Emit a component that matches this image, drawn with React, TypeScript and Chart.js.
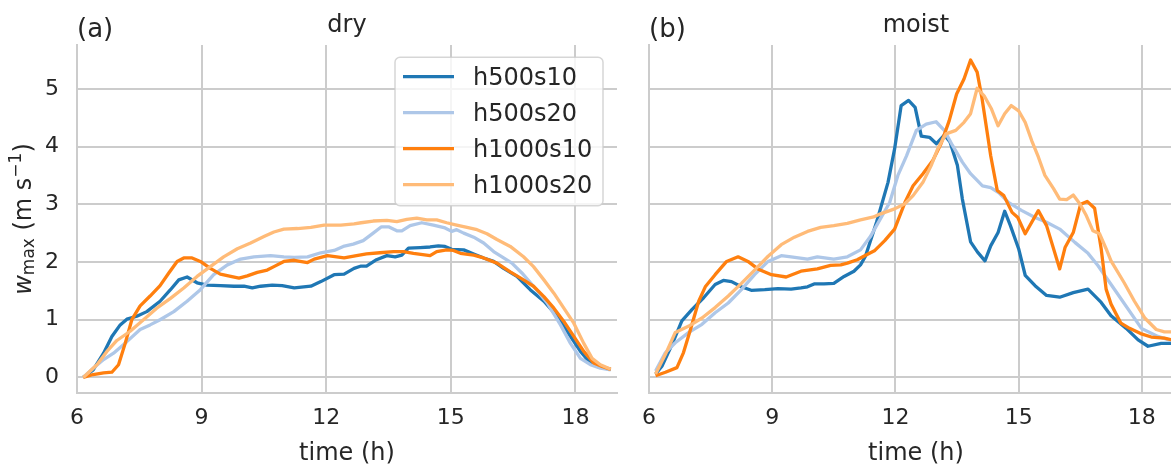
import React, { useEffect, useRef } from 'react';
import { Chart, registerables } from 'chart.js';

Chart.register(...registerables);

const SERIES_NAMES = ['h500s10', 'h500s20', 'h1000s10', 'h1000s20'];
const SERIES_COLORS = ['#1f77b4', '#aec7e8', '#ff7f0e', '#ffbb78'];
const X_TICKS = [6, 9, 12, 15, 18];
const Y_TICKS = [0, 1, 2, 3, 4, 5];
const PANEL_TITLES = ['dry', 'moist'];
const PANEL_LETTERS = ['(a)', '(b)'];
const X_LABEL = 'time (h)';

// ---- dry ----
const dryH500s10T = [6.15, 6.39, 6.64, 6.84, 7.04, 7.2, 7.44, 7.68, 8.0, 8.25, 8.45, 8.65, 8.89, 9.13, 9.45, 9.78, 10.02, 10.22, 10.42, 10.7, 10.94, 11.23, 11.63, 11.87, 12.19, 12.43, 12.67, 12.84, 12.97, 13.21, 13.46, 13.66, 13.82, 13.98, 14.26, 14.5, 14.7, 14.86, 15.02, 15.31, 15.55, 15.79, 16.03, 16.27, 16.59, 16.91, 17.24, 17.56, 17.88, 18.12, 18.32, 18.52, 18.85];
const dryH500s10V = [0, 0.13, 0.42, 0.71, 0.91, 1.01, 1.06, 1.14, 1.32, 1.52, 1.69, 1.74, 1.64, 1.6, 1.59, 1.58, 1.58, 1.55, 1.58, 1.6, 1.59, 1.55, 1.58, 1.66, 1.78, 1.79, 1.89, 1.93, 1.93, 2.04, 2.11, 2.09, 2.12, 2.24, 2.25, 2.26, 2.28, 2.27, 2.22, 2.21, 2.14, 2.07, 2.01, 1.89, 1.75, 1.52, 1.32, 1.06, 0.71, 0.45, 0.28, 0.19, 0.14];

const dryH500s20T = [6.15, 6.39, 6.64, 6.88, 7.2, 7.52, 7.76, 8.0, 8.33, 8.65, 8.97, 9.29, 9.62, 9.94, 10.26, 10.66, 10.98, 11.23, 11.55, 11.87, 12.19, 12.41, 12.65, 12.89, 13.13, 13.33, 13.5, 13.7, 13.82, 14.02, 14.3, 14.58, 14.86, 15.02, 15.14, 15.31, 15.55, 15.79, 16.03, 16.27, 16.47, 16.71, 16.99, 17.32, 17.64, 17.88, 18.12, 18.36, 18.6, 18.85];
const dryH500s20V = [0, 0.16, 0.31, 0.42, 0.62, 0.83, 0.91, 1.0, 1.14, 1.32, 1.52, 1.78, 1.95, 2.05, 2.09, 2.11, 2.09, 2.08, 2.09, 2.16, 2.2, 2.27, 2.31, 2.37, 2.5, 2.61, 2.61, 2.54, 2.54, 2.63, 2.68, 2.64, 2.59, 2.53, 2.56, 2.5, 2.43, 2.33, 2.18, 2.07, 1.98, 1.81, 1.58, 1.29, 0.91, 0.59, 0.33, 0.22, 0.16, 0.13];

const dryH1000s10T = [6.15, 6.39, 6.64, 6.84, 7.0, 7.16, 7.32, 7.52, 7.76, 8.0, 8.21, 8.41, 8.57, 8.77, 8.97, 9.21, 9.45, 9.7, 9.9, 10.1, 10.34, 10.58, 10.74, 10.98, 11.23, 11.55, 11.71, 12.03, 12.43, 12.73, 12.97, 13.29, 13.62, 13.86, 14.1, 14.5, 14.66, 14.9, 15.06, 15.23, 15.55, 15.79, 16.11, 16.43, 16.75, 16.99, 17.24, 17.48, 17.72, 17.96, 18.2, 18.44, 18.64, 18.85];
const dryH1000s10V = [0, 0.05, 0.08, 0.09, 0.22, 0.59, 1.0, 1.24, 1.41, 1.59, 1.81, 2.01, 2.07, 2.07, 2.01, 1.89, 1.79, 1.75, 1.72, 1.76, 1.82, 1.86, 1.92, 2.01, 2.03, 1.99, 2.05, 2.11, 2.07, 2.11, 2.14, 2.16, 2.18, 2.18, 2.15, 2.11, 2.18, 2.21, 2.2, 2.15, 2.12, 2.07, 1.98, 1.83, 1.69, 1.58, 1.4, 1.2, 0.97, 0.71, 0.45, 0.25, 0.19, 0.14];

const dryH1000s20T = [6.15, 6.48, 6.72, 6.96, 7.28, 7.6, 7.92, 8.25, 8.57, 8.89, 9.21, 9.53, 9.86, 10.18, 10.5, 10.74, 10.98, 11.31, 11.63, 11.95, 12.35, 12.67, 12.84, 13.13, 13.46, 13.7, 13.94, 14.18, 14.42, 14.66, 14.9, 15.14, 15.39, 15.63, 15.87, 16.11, 16.43, 16.75, 16.99, 17.24, 17.48, 17.72, 17.96, 18.2, 18.4, 18.6, 18.85];
const dryH1000s20V = [0, 0.22, 0.45, 0.64, 0.8, 1.0, 1.2, 1.37, 1.55, 1.75, 1.92, 2.09, 2.23, 2.33, 2.44, 2.52, 2.57, 2.58, 2.6, 2.64, 2.64, 2.66, 2.68, 2.71, 2.72, 2.7, 2.74, 2.76, 2.73, 2.73, 2.68, 2.64, 2.6, 2.56, 2.49, 2.39, 2.27, 2.09, 1.92, 1.69, 1.46, 1.2, 0.94, 0.59, 0.33, 0.22, 0.14];

// ---- moist ----
const moistH500s10T = [6.16, 6.32, 6.56, 6.8, 7.05, 7.33, 7.61, 7.81, 8.01, 8.25, 8.49, 8.82, 9.14, 9.46, 9.7, 9.86, 10.02, 10.26, 10.5, 10.75, 10.99, 11.15, 11.27, 11.54, 11.82, 11.98, 12.14, 12.32, 12.48, 12.63, 12.83, 13.0, 13.19, 13.33, 13.51, 13.63, 13.83, 14.0, 14.18, 14.32, 14.5, 14.66, 14.8, 15.0, 15.16, 15.4, 15.68, 16.0, 16.33, 16.69, 17.01, 17.25, 17.62, 17.91, 18.15, 18.47, 18.8];
const moistH500s10V = [0.06, 0.2, 0.57, 0.98, 1.18, 1.38, 1.61, 1.68, 1.66, 1.57, 1.51, 1.52, 1.54, 1.53, 1.55, 1.57, 1.62, 1.62, 1.63, 1.75, 1.84, 1.95, 2.1, 2.69, 3.38, 3.96, 4.71, 4.8, 4.68, 4.18, 4.16, 4.05, 4.2, 4.08, 3.67, 3.09, 2.35, 2.17, 2.02, 2.28, 2.51, 2.88, 2.63, 2.23, 1.77, 1.59, 1.42, 1.39, 1.47, 1.53, 1.3, 1.07, 0.85, 0.65, 0.54, 0.59, 0.59];

const moistH500s20T = [6.16, 6.4, 6.64, 6.97, 7.29, 7.61, 7.93, 8.25, 8.57, 8.9, 9.22, 9.46, 9.86, 10.1, 10.5, 10.83, 11.15, 11.39, 11.54, 11.86, 12.06, 12.27, 12.51, 12.75, 12.99, 13.19, 13.39, 13.63, 13.83, 14.12, 14.32, 14.52, 14.76, 15.08, 15.4, 15.68, 16.0, 16.37, 16.69, 16.93, 17.34, 17.99, 18.39, 18.8];
const moistH500s20V = [0.11, 0.43, 0.6, 0.78, 0.92, 1.12, 1.29, 1.52, 1.78, 2.01, 2.11, 2.09, 2.05, 2.09, 2.05, 2.09, 2.21, 2.44, 2.63, 3.03, 3.5, 3.84, 4.28, 4.39, 4.43, 4.28, 4.02, 3.73, 3.53, 3.32, 3.29, 3.2, 3.03, 2.89, 2.77, 2.69, 2.57, 2.34, 2.15, 1.94, 1.52, 0.85, 0.71, 0.62];

const moistH1000s10T = [6.16, 6.4, 6.68, 6.84, 7.01, 7.21, 7.37, 7.61, 7.89, 8.17, 8.41, 8.65, 8.98, 9.34, 9.7, 10.1, 10.42, 10.67, 10.83, 11.07, 11.31, 11.5, 11.74, 11.98, 12.23, 12.43, 12.67, 12.91, 13.11, 13.31, 13.49, 13.67, 13.83, 13.99, 14.11, 14.32, 14.48, 14.64, 14.84, 14.98, 15.16, 15.48, 15.68, 16.0, 16.13, 16.33, 16.51, 16.67, 16.85, 17.01, 17.13, 17.25, 17.49, 17.7, 17.97, 18.23, 18.55, 18.8];
const moistH1000s10V = [0.03, 0.09, 0.17, 0.43, 0.83, 1.32, 1.57, 1.78, 2.01, 2.09, 2.01, 1.88, 1.78, 1.74, 1.84, 1.88, 1.94, 1.95, 1.98, 2.04, 2.13, 2.2, 2.37, 2.57, 3.03, 3.32, 3.53, 3.76, 4.05, 4.45, 4.91, 5.17, 5.5, 5.29, 4.83, 3.84, 3.24, 3.15, 2.86, 2.77, 2.49, 2.89, 2.63, 1.88, 2.25, 2.51, 3.0, 3.05, 2.93, 2.23, 1.53, 1.27, 0.94, 0.85, 0.76, 0.7, 0.68, 0.64];

const moistH1000s20T = [6.16, 6.4, 6.64, 6.97, 7.29, 7.61, 7.93, 8.25, 8.57, 8.9, 9.22, 9.54, 9.86, 10.18, 10.5, 10.83, 11.15, 11.47, 11.62, 11.98, 12.23, 12.43, 12.67, 12.87, 13.03, 13.23, 13.47, 13.67, 13.83, 13.99, 14.16, 14.34, 14.5, 14.66, 14.82, 15.0, 15.16, 15.32, 15.48, 15.64, 15.85, 16.0, 16.17, 16.33, 16.49, 16.65, 16.81, 16.97, 17.13, 17.25, 17.57, 17.82, 18.07, 18.35, 18.55, 18.8];
const moistH1000s20V = [0.06, 0.4, 0.78, 0.89, 1.03, 1.21, 1.41, 1.63, 1.86, 2.1, 2.3, 2.43, 2.53, 2.6, 2.63, 2.67, 2.73, 2.78, 2.83, 2.92, 3.01, 3.15, 3.38, 3.67, 3.96, 4.22, 4.28, 4.42, 4.57, 5.01, 4.88, 4.65, 4.36, 4.57, 4.71, 4.62, 4.42, 4.1, 3.82, 3.5, 3.27, 3.09, 3.08, 3.16, 3.01, 2.8, 2.54, 2.49, 2.23, 2.02, 1.64, 1.32, 1.03, 0.83, 0.79, 0.79];

const PANEL_SERIES = [
  [
    [dryH500s10T, dryH500s10V],
    [dryH500s20T, dryH500s20V],
    [dryH1000s10T, dryH1000s10V],
    [dryH1000s20T, dryH1000s20V],
  ],
  [
    [moistH500s10T, moistH500s10V],
    [moistH500s20T, moistH500s20V],
    [moistH1000s10T, moistH1000s10V],
    [moistH1000s20T, moistH1000s20V],
  ],
];

const FONT = "'DejaVu Sans', sans-serif";
const TEXT_COLOR = '#262626';
const GRID_COLOR = '#cccccc';
const LINE_WIDTH = 3.3;
const X_FULL = [6, 19];
const Y_RANGE = [-0.27, 5.76];

function zip(t: number[], v: number[]) {
  const n = Math.min(t.length, v.length);
  const out: { x: number; y: number }[] = [];
  for (let i = 0; i < n; i++) out.push({ x: t[i], y: v[i] });
  return out;
}

function makeDecor(panel: number) {
  return {
    id: 'decor' + panel,
    afterDraw(chart: any) {
      const ctx = chart.ctx as CanvasRenderingContext2D;
      const area = chart.chartArea;
      const xs = chart.scales.x;
      const center = xs.getPixelForValue((X_FULL[0] + X_FULL[1]) / 2);
      ctx.save();
      ctx.fillStyle = TEXT_COLOR;
      ctx.textBaseline = 'alphabetic';
      ctx.font = `24px ${FONT}`;
      ctx.textAlign = 'center';
      ctx.fillText(PANEL_TITLES[panel], center, 32);
      ctx.fillText(X_LABEL, center, 460);
      ctx.textAlign = 'left';
      ctx.font = `26px ${FONT}`;
      ctx.fillText(PANEL_LETTERS[panel], area.left, 37);

      if (panel === 0) {
        // legend
        const bx = area.right - 222;
        const by = area.top + 12.3;
        const bw = 208;
        const bh = 148.4;
        const r = 5;
        ctx.beginPath();
        ctx.moveTo(bx + r, by);
        ctx.lineTo(bx + bw - r, by);
        ctx.arcTo(bx + bw, by, bx + bw, by + r, r);
        ctx.lineTo(bx + bw, by + bh - r);
        ctx.arcTo(bx + bw, by + bh, bx + bw - r, by + bh, r);
        ctx.lineTo(bx + r, by + bh);
        ctx.arcTo(bx, by + bh, bx, by + bh - r, r);
        ctx.lineTo(bx, by + r);
        ctx.arcTo(bx, by, bx + r, by, r);
        ctx.closePath();
        ctx.fillStyle = 'rgba(255,255,255,0.8)';
        ctx.fill();
        ctx.strokeStyle = 'rgba(204,204,204,0.8)';
        ctx.lineWidth = 1.5;
        ctx.stroke();
        ctx.font = `24px ${FONT}`;
        ctx.textAlign = 'left';
        for (let i = 0; i < SERIES_NAMES.length; i++) {
          const cy = by + 19.4 + i * 36;
          ctx.beginPath();
          ctx.moveTo(bx + 8, cy);
          ctx.lineTo(bx + 59, cy);
          ctx.strokeStyle = SERIES_COLORS[i];
          ctx.lineWidth = LINE_WIDTH;
          ctx.lineCap = 'butt';
          ctx.stroke();
          ctx.fillStyle = TEXT_COLOR;
          ctx.fillText(SERIES_NAMES[i], bx + 78, cy + 8.7);
        }

        // y label: w_max (m s^-1)
        ctx.save();
        ctx.translate(30.5, (area.top + area.bottom) / 2);
        ctx.rotate(-Math.PI / 2);
        const pieces = [
          { t: 'w', f: `italic 24px ${FONT}`, dy: 0 },
          { t: 'max', f: `17px ${FONT}`, dy: 3.5 },
          { t: ' (m s', f: `24px ${FONT}`, dy: 0 },
          { t: '\u22121', f: `17px ${FONT}`, dy: -10 },
          { t: ')', f: `24px ${FONT}`, dy: 0 },
        ];
        let total = 0;
        const widths = pieces.map((p) => {
          ctx.font = p.f;
          const w = ctx.measureText(p.t).width;
          total += w;
          return w;
        });
        let x = -total / 2;
        ctx.fillStyle = TEXT_COLOR;
        ctx.textAlign = 'left';
        pieces.forEach((p, i) => {
          ctx.font = p.f;
          ctx.fillText(p.t, x, p.dy);
          x += widths[i];
        });
        ctx.restore();
      }
      ctx.restore();
    },
  };
}

function makeConfig(panel: number): any {
  const datasets = PANEL_SERIES[panel].map(([t, v], i) => ({
    label: SERIES_NAMES[i],
    data: zip(t as number[], v as number[]),
    borderColor: SERIES_COLORS[i],
    backgroundColor: SERIES_COLORS[i],
    borderWidth: LINE_WIDTH,
    pointRadius: 0,
    tension: 0,
    fill: false,
    borderJoinStyle: 'round',
    borderCapStyle: 'butt',
    order: SERIES_NAMES.length - i,
  }));
  return {
    type: 'line',
    data: { datasets },
    plugins: [makeDecor(panel)],
    options: {
      responsive: false,
      maintainAspectRatio: false,
      animation: false,
      events: [],
      layout: { padding: { left: 0, right: panel === 0 ? 13 : 0, top: 45, bottom: 0 } },
      plugins: {
        legend: { display: false },
        tooltip: { enabled: false },
        title: { display: false },
      },
      scales: {
        x: {
          type: 'linear',
          min: X_FULL[0],
          max: panel === 0 ? X_FULL[1] : 18.71,
          afterBuildTicks: (s: any) => {
            s.ticks = X_TICKS.map((v) => ({ value: v }));
          },
          afterFit: (s: any) => {
            s.height = 71;
          },
          grid: { color: GRID_COLOR, lineWidth: 2, drawTicks: false },
          border: { display: true, color: GRID_COLOR, width: 2 },
          ticks: {
            padding: 12,
            color: TEXT_COLOR,
            font: { family: FONT, size: 22 },
            autoSkip: false,
            maxRotation: 0,
            callback: (v: any) => String(v),
          },
        },
        y: {
          type: 'linear',
          min: Y_RANGE[0],
          max: Y_RANGE[1],
          afterBuildTicks: (s: any) => {
            s.ticks = Y_TICKS.map((v) => ({ value: v }));
          },
          afterFit: (s: any) => {
            s.width = panel === 0 ? 77 : 13;
          },
          grid: { color: GRID_COLOR, lineWidth: 2, drawTicks: false },
          border: { display: true, color: GRID_COLOR, width: 2 },
          ticks: {
            display: panel === 0,
            padding: 18,
            color: TEXT_COLOR,
            font: { family: FONT, size: 22 },
            callback: (v: any) => String(v),
          },
        },
      },
    },
  };
}

function Panel({ panel, left, width }: { panel: number; left: number; width: number }) {
  const ref = useRef<HTMLCanvasElement>(null);
  useEffect(() => {
    if (!ref.current) return;
    const chart = new Chart(ref.current, makeConfig(panel));
    return () => chart.destroy();
  }, [panel]);
  return (
    <canvas
      ref={ref}
      width={width}
      height={464}
      style={{ position: 'absolute', left, top: 0, width, height: 464, display: 'block' }}
    />
  );
}

export default function App() {
  return (
    <div
      style={{
        position: 'absolute',
        left: 0,
        top: 0,
        width: 1171,
        height: 464,
        overflow: 'hidden',
        background: '#ffffff',
      }}
    >
      <Panel panel={0} left={0} width={630} />
      <Panel panel={1} left={630} width={541} />
    </div>
  );
}
